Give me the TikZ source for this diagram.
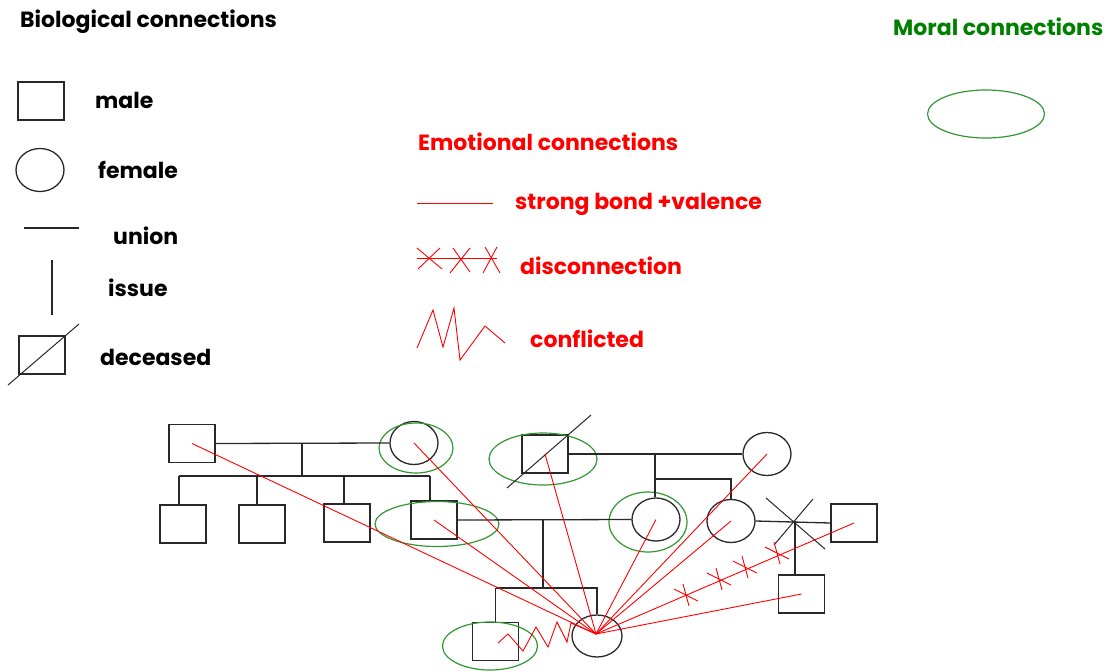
\documentclass[tikz,border=0pt]{standalone}
\usepackage{fontspec}
\setmainfont{Poppins}
\usetikzlibrary{shapes.geometric,calc}
\definecolor{gline}{RGB}{40,40,40}
\definecolor{moral}{RGB}{50,150,50}
\definecolor{moraltext}{RGB}{0,128,0}
\definecolor{emo}{RGB}{255,0,0}
\tikzset{
  male/.style={draw=gline,line width=1.3pt,rectangle,minimum width=46pt,minimum height=38pt,inner sep=0pt},
  female/.style={draw=gline,line width=1.3pt,ellipse,minimum width=48pt,minimum height=43pt,inner sep=0pt},
  bio/.style={draw=gline,line width=1.3pt},
  moralring/.style={draw=moral,line width=1.2pt,ellipse,inner sep=0pt},
  emoline/.style={draw=emo,line width=0.9pt},
  lbl/.style={anchor=west,inner sep=0pt,font=\bfseries\fontsize{22}{22}\selectfont},
  pics/dxmark/.style={code={
    \draw[emoline] (-12,-6) -- (12,6);
    \draw[emoline] (-3,-11) -- (3,11);
  }}
}
\begin{document}
\begin{tikzpicture}[x=1pt,y=-1pt]
\useasboundingbox (0,0) rectangle (1114,672);
% ---------- Biological legend
\node[lbl] (tbio) at (20,22) {Biological connections};
\node[male] (lmale) at (41,101) {};
\node[lbl] (tmale) at (95,100) {male};
\node[female] (lfem) at (40,170) {};
\node[lbl] (tfem) at (98,170) {female};
\coordinate (lu1) at (24,228); \coordinate (lu2) at (79,228);
\draw[bio] (lu1) -- (lu2);
\node[lbl] (tunion) at (113,236) {union};
\coordinate (li1) at (52,260); \coordinate (li2) at (52,315);
\draw[bio] (li1) -- (li2);
\node[lbl] (tissue) at (108,288) {issue};
\node[male] (ldec) at (42,355) {};
\coordinate (ld1) at (8,385); \coordinate (ld2) at (79,324);
\draw[bio,line width=1pt] (ld1) -- (ld2);
\node[lbl] (tdec) at (100,357) {deceased};
% ---------- Emotional legend
\node[lbl,text=emo] (temo) at (418,142) {Emotional connections};
\coordinate (ls1) at (417,203); \coordinate (ls2) at (493,203);
\draw[emoline] (ls1) -- (ls2);
\node[lbl,text=emo] (tstrong) at (515,204) {strong bond +valence};
\coordinate (lx1) at (417,258); \coordinate (lx2) at (497,258);
\draw[emoline] (lx1) -- (lx2);
\draw[emoline] (417,248) -- (442,269) (440,248) -- (418,269);
\draw[emoline] (450,273) -- (470,248) (453,248) -- (470,272);
\draw[emoline] (485,247) -- (500,273) (497,247) -- (483,273);
\node[lbl,text=emo] (tdis) at (520,266) {disconnection};
\draw[emoline] (417,348) -- (433,310) -- (443,347) -- (454,308) -- (460,360) -- (485,326) -- (505,343);
\node[lbl,text=emo] (tconf) at (530,339) {conflicted};
% ---------- Moral legend
\node[lbl,text=moraltext] (tmoral) at (893,27) {Moral connections};
\node[moralring,minimum width=117pt,minimum height=48pt] (lmoral) at (986,114) {};
% ---------- Genogram: people
\node[male] (A) at (192,443.5) {};
\node[female] (B) at (414,443) {};
\node[male] (C1) at (183,524) {};
\node[male] (C2) at (262,524) {};
\node[male] (C3) at (347,523) {};
\node[male] (C4) at (434,520) {};
\node[male] (D) at (545,454) {};
\node[female] (E) at (767,454) {};
\node[female] (F) at (656,519.5) {};
\node[female] (G) at (731,521) {};
\node[male] (I) at (854,523) {};
\node[male] (J) at (801.5,594) {};
\node[male] (C5) at (495.5,641.5) {};
\node[female,minimum width=50pt,minimum height=42pt] (H) at (597,636) {};
% moral rings
\node[moralring,minimum width=74pt,minimum height=50pt] (mB) at (416,448) {};
\node[moralring,minimum width=124pt,minimum height=45pt] (mC4) at (437,524) {};
\node[moralring,minimum width=108pt,minimum height=52pt] (mD) at (543,459) {};
\node[moralring,minimum width=78pt,minimum height=60pt] (mF) at (648,522) {};
\node[moralring,minimum width=95pt,minimum height=48pt] (mC5) at (490,646) {};
% deceased mark on D
\coordinate (dd1) at (507,488); \coordinate (dd2) at (591,415);
\draw[bio,line width=1pt] (dd1) -- (dd2);
% ---------- unions and issue
\draw[bio] (A.east) -- (B.west);
\coordinate (uAB) at (302,443.5);
\coordinate (sAB) at (302,476);
\draw[bio] (uAB) -- (sAB);
\draw[bio] (179,476) coordinate (s1) -- (430,476) coordinate (s4);
\draw[bio] (s1) -- (s1 |- C1.north);
\draw[bio] (257,476) coordinate (s2) -- (s2 |- C2.north);
\draw[bio] (344,476) coordinate (s3) -- (s3 |- C3.north);
\draw[bio] (s4) -- (s4 |- C4.north);
\draw[bio] (D.east) -- (E.west);
\coordinate (uDE) at (655,454);
\coordinate (sDE) at (655,479);
\draw[bio] (uDE) -- (sDE) -- (sDE -| G.north) -- (G.north);
\draw[bio] (sDE) -- (sDE |- F.north);
\draw[bio] (C4.east) -- (F.west);
\coordinate (uCF) at (543,520);
\coordinate (sCF) at (543,588);
\draw[bio] (uCF) -- (sCF);
\draw[bio] (sCF -| C5.north) -- (sCF -| H.north) -- (H.north);
\draw[bio] (sCF -| C5.north) -- (C5.north);
\draw[bio] (G.east) -- (I.west);
\coordinate (uGI) at (795,521);
\draw[bio] (uGI) -- (uGI |- J.north);
% divorce X
\draw[bio,line width=1pt] (766,498) -- (825,549) (813,499) -- (774,545);
% ---------- emotional connections
\coordinate (hc) at (596,634);
\foreach \p in {A,B,C4,D,E,F,G,J}{
  \draw[emoline] (\p.center) -- (hc);
}
\draw[emoline] (I.center) -- (hc);
\foreach \q in {(686,595),(719,579),(745,567),(777,553)}{
  \pic at \q {dxmark};
}
\draw[emoline] (498,643) -- (508,634) -- (523,651) -- (536,627) -- (548,647) -- (557,622) -- (567,642) -- (571,623) -- (hc);
\end{tikzpicture}
\end{document}
